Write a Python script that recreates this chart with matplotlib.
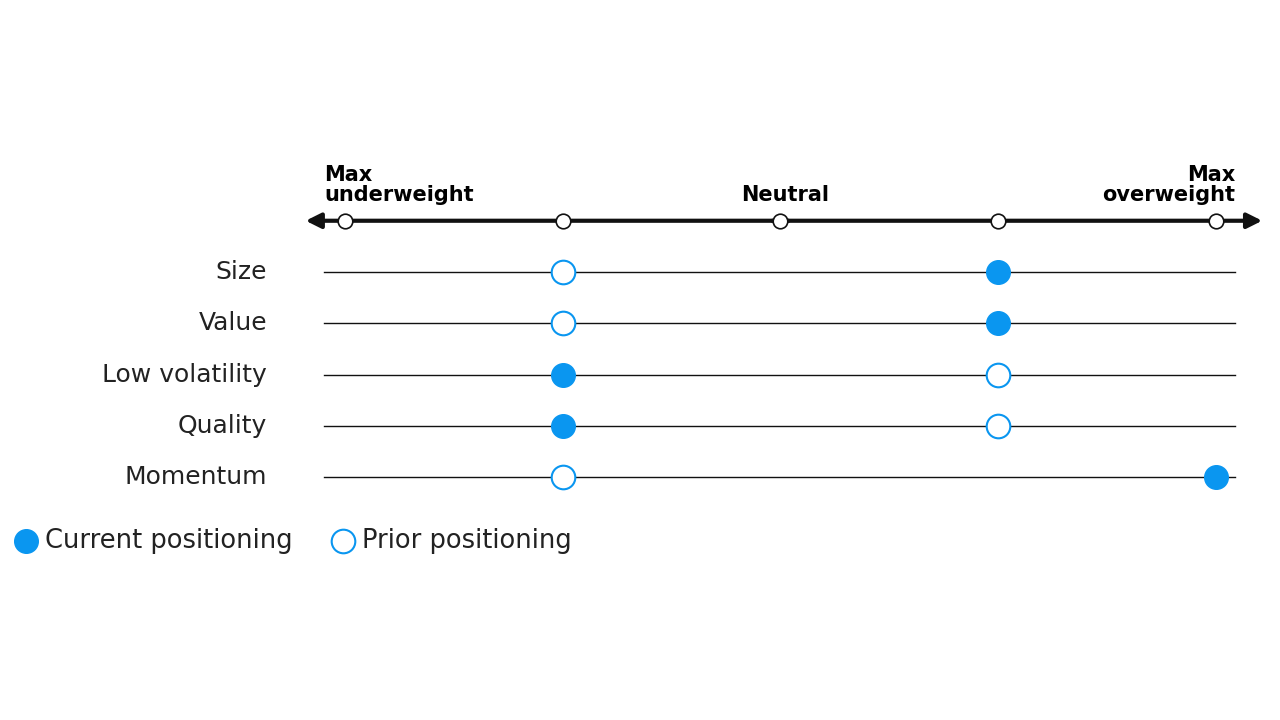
import matplotlib.pyplot as plt

factors = ['Size', 'Value', 'Low volatility', 'Quality', 'Momentum']
current = [1, 1, -1, -1, 2]
prior = [-1, -1, 1, 1, -1]
scale_ticks = [-2, -1, 0, 1, 2]
blue = '#0A96F0'

fig = plt.figure(figsize=(12.8, 7.2), dpi=100)
ax = fig.add_axes([0, 0, 1, 1])
ax.set_xlim(-3.584, 2.294)
ax.set_ylim(8.741, -5.307)
ax.axis('off')

# scale axis with arrows
ax.annotate('', xy=(2.225, -1), xytext=(-0.05, -1),
            arrowprops=dict(arrowstyle='-|>,head_length=0.9,head_width=0.45', lw=3, color='#111111'))
ax.annotate('', xy=(-2.193, -1), xytext=(0.05, -1),
            arrowprops=dict(arrowstyle='-|>,head_length=0.9,head_width=0.45', lw=3, color='#111111'))
ax.plot(scale_ticks, [-1] * 5, 'o', ms=10.5, mfc='white', mec='#111111', mew=1.2, zorder=5)

ax.text(-2.096, -1.3, 'Max\nunderweight', ha='left', va='bottom', fontsize=15,
        fontweight='bold', linespacing=1.0)
ax.text(0.02, -1.3, 'Neutral', ha='center', va='bottom', fontsize=15, fontweight='bold')
ax.text(2.087, -1.3, 'Max\noverweight', ha='right', va='bottom', fontsize=15,
        fontweight='bold', linespacing=1.0, multialignment='right')

for i, name in enumerate(factors):
    ax.plot([-2.096, 2.087], [i, i], color='#111111', lw=1, zorder=1)
    ax.text(-2.358, i, name, ha='right', va='center', fontsize=18, color='#222222')
    ax.plot(prior[i], i, 'o', ms=17, mfc='white', mec=blue, mew=1.5, zorder=3)
    ax.plot(current[i], i, 'o', ms=17, mfc=blue, mec=blue, zorder=3)

# legend
ly = 5.25
ax.plot((26 - 345) / 217.75 - 2, ly, 'o', ms=17, mfc=blue, mec=blue)
ax.text((45 - 345) / 217.75 - 2, ly, 'Current positioning', va='center', fontsize=18.5, color='#222222')
ax.plot((343 - 345) / 217.75 - 2, ly, 'o', ms=17, mfc='white', mec=blue, mew=1.5)
ax.text((362 - 345) / 217.75 - 2, ly, 'Prior positioning', va='center', fontsize=18.5, color='#222222')

fig.savefig('out.png', dpi=100)
